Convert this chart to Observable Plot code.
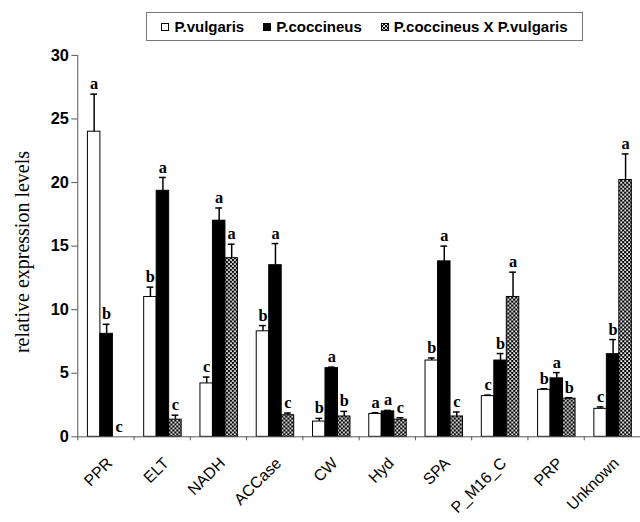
<!DOCTYPE html>
<html>
<head>
<meta charset="utf-8">
<script src="https://cdn.jsdelivr.net/npm/d3@7"></script>
<script src="https://cdn.jsdelivr.net/npm/@observablehq/plot@0.6"></script>
<style>
  body { margin: 0; width: 640px; height: 522px; overflow: hidden; position: relative; background: #fff; font-family: "Liberation Sans", Arial, sans-serif; }
  #legend { position: absolute; left: 146px; top: 12px; width: 435px; height: 27px; border: 1.5px solid #777;
            display: flex; align-items: center; justify-content: center; gap: 19px; font-weight: bold; font-size: 15px; }
  #legend .item { display: flex; align-items: center; gap: 5px; white-space: nowrap; }
  #legend svg { display: block; }
  #chart { position: absolute; left: 0; top: 45px; }
  #ylabel { position: absolute; left: 22px; top: 252px; transform: translate(-50%, -50%) rotate(-90deg);
            font-family: "Liberation Serif", "Times New Roman", serif; font-size: 20px; white-space: nowrap; }
</style>
</head>
<body>
<div id="legend"></div>
<div id="chart"></div>
<div id="ylabel">relative expression levels</div>
<script>
const genes = ["PPR", "ELT", "NADH", "ACCase", "CW", "Hyd", "SPA", "P_M16_C", "PRP", "Unknown"];
const seriesNames = ["P.vulgaris", "P.coccineus", "P.coccineus X P.vulgaris"];
const seriesFills = ["white", "black", "url(#checker)"];

const vulgaris     = [24.0, 11.0, 4.2, 8.3, 1.2, 1.8, 6.0, 3.2, 3.7, 2.2];
const vulgarisErr  = [2.95, 0.77, 0.5, 0.45, 0.25, 0.1, 0.2, 0.08, 0.08, 0.15];
const coccineus    = [8.1, 19.35, 17.0, 13.5, 5.4, 2.0, 13.8, 6.0, 4.6, 6.5];
const coccineusErr = [0.75, 1.05, 1.0, 1.7, 0.08, 0.08, 1.2, 0.55, 0.45, 1.15];
const hybrid       = [0, 1.35, 14.05, 1.7, 1.6, 1.35, 1.6, 11.0, 3.0, 20.2];
const hybridErr    = [0, 0.35, 1.1, 0.17, 0.4, 0.15, 0.35, 1.95, 0.08, 2.05];

const vulgarisSig  = ["a", "b", "c", "b", "b", "a", "b", "c", "b", "c"];
const coccineusSig = ["b", "a", "a", "a", "a", "a", "a", "b", "a", "b"];
const hybridSig    = ["c", "c", "a", "c", "b", "c", "c", "a", "b", "a"];

const yTicks = [0, 5, 10, 15, 20, 25, 30];

// layout within each gene group (x units: one group = 1)
const groupPad = 0.18, barW = 0.222, capHalf = 0.06;

const values = [vulgaris, coccineus, hybrid];
const errs = [vulgarisErr, coccineusErr, hybridErr];
const sigs = [vulgarisSig, coccineusSig, hybridSig];

const rows = [];
genes.forEach((g, i) => {
  for (let s = 0; s < 3; s++) {
    const x1 = i + groupPad + s * barW;
    rows.push({gene: g, s, value: values[s][i], err: errs[s][i], top: values[s][i] + errs[s][i],
               sig: sigs[s][i], x1, x2: x1 + barW, xc: x1 + barW / 2});
  }
});

const barMarks = [0, 1, 2].map(s =>
  Plot.rectY(rows.filter(d => d.s === s && d.value > 0), {
    x1: "x1", x2: "x2", y1: 0, y2: "value", fill: seriesFills[s], stroke: "black", strokeWidth: 1
  })
);

const errRows = rows.filter(d => d.err > 0);

const plot = Plot.plot({
  width: 646,
  height: 477,
  marginLeft: 78,
  marginRight: 0,
  marginTop: 10,
  marginBottom: 82,
  x: {type: "linear", domain: [0, genes.length], axis: null},
  y: {domain: [0, 30], axis: null},
  style: {fontFamily: "Liberation Sans, Arial, sans-serif", background: "white"},
  marks: [
    Plot.axisY({ticks: yTicks, tickSize: 6, tickPadding: 3, fontSize: 16.5, fontWeight: "bold",
                stroke: "#555", fill: "black", label: null}),
    Plot.axisX({ticks: d3.range(0, genes.length + 1), tickSize: 4, tickFormat: () => "", stroke: "#555", label: null}),
    Plot.axisX({ticks: genes.map((g, i) => i + 0.5), tickFormat: d => genes[Math.floor(d)],
                tickRotate: -45, tickSize: 0, tickPadding: 24, fontSize: 16, dx: 4, label: null}),
    ...barMarks,
    Plot.ruleX(errRows, {x: "xc", y1: "value", y2: "top", stroke: "black", strokeWidth: 1.5}),
    Plot.ruleY(errRows, {y: "top", x1: d => d.xc - capHalf, x2: d => d.xc + capHalf, stroke: "black", strokeWidth: 1.5}),
    Plot.text(rows, {x: "xc", y: "top", text: "sig", dy: -5, lineAnchor: "bottom",
                     fontFamily: "Liberation Serif, Times New Roman, serif", fontWeight: "bold", fontSize: 16.5, fill: "black"}),
    Plot.ruleX([0], {y1: 0, y2: 30, stroke: "#555", strokeWidth: 1}),
    Plot.ruleY([0], {stroke: "#555", strokeWidth: 1})
  ]
});

// checker pattern for the hybrid bars
const ns = "http://www.w3.org/2000/svg";
function makePattern(id) {
  const defs = document.createElementNS(ns, "defs");
  const p = document.createElementNS(ns, "pattern");
  p.setAttribute("id", id);
  p.setAttribute("patternUnits", "userSpaceOnUse");
  p.setAttribute("width", "4");
  p.setAttribute("height", "4");
  const bg = document.createElementNS(ns, "rect");
  bg.setAttribute("width", "4"); bg.setAttribute("height", "4"); bg.setAttribute("fill", "black");
  p.appendChild(bg);
  [[0.2, 0.2], [2.2, 2.2]].forEach(([x, y]) => {
    const r = document.createElementNS(ns, "rect");
    r.setAttribute("x", x); r.setAttribute("y", y);
    r.setAttribute("width", "1.8"); r.setAttribute("height", "1.8"); r.setAttribute("fill", "white");
    p.appendChild(r);
  });
  defs.appendChild(p);
  return defs;
}
const svgRoot = plot.tagName.toLowerCase() === "svg" ? plot : plot.querySelector("svg");
svgRoot.insertBefore(makePattern("checker"), svgRoot.firstChild);
document.getElementById("chart").appendChild(plot);

// legend
const legend = document.getElementById("legend");
seriesNames.forEach((name, s) => {
  const item = document.createElement("div");
  item.className = "item";
  const sw = document.createElementNS(ns, "svg");
  sw.setAttribute("width", "8"); sw.setAttribute("height", "8");
  if (s === 2) sw.appendChild(makePattern("checkerLegend"));
  const r = document.createElementNS(ns, "rect");
  r.setAttribute("x", "0.5"); r.setAttribute("y", "0.5"); r.setAttribute("width", "7"); r.setAttribute("height", "7");
  r.setAttribute("fill", s === 2 ? "url(#checkerLegend)" : seriesFills[s]);
  r.setAttribute("stroke", "black"); r.setAttribute("stroke-width", "1");
  sw.appendChild(r);
  item.appendChild(sw);
  const t = document.createElement("span");
  t.textContent = name;
  item.appendChild(t);
  legend.appendChild(item);
});
</script>
</body>
</html>
